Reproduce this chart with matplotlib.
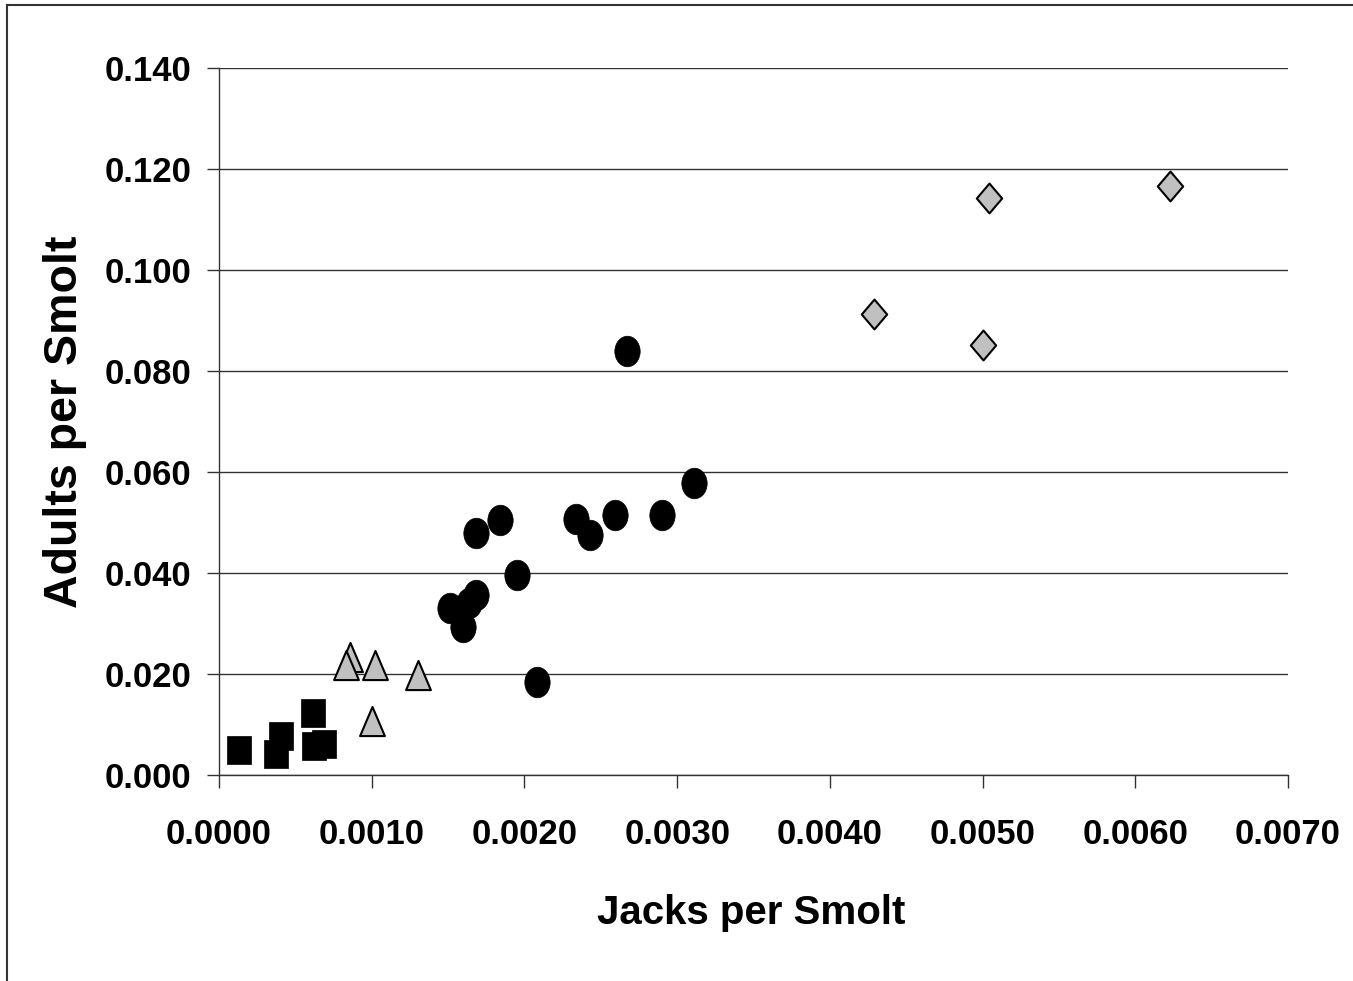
import numpy as np
import matplotlib
matplotlib.use("Agg")
import matplotlib.pyplot as plt
from matplotlib.path import Path
from matplotlib.lines import Line2D

plt.rcParams['font.family'] = ['Liberation Sans', 'DejaVu Sans']

# Data
sq_x = [0.000133, 0.000408, 0.000375, 0.000618, 0.000620, 0.000690]
sq_y = [0.0049, 0.0077, 0.0041, 0.0122, 0.0057, 0.0061]

tri_x = [0.00086, 0.00083, 0.00102, 0.00130, 0.00100]
tri_y = [0.0234, 0.0218, 0.0218, 0.0198, 0.0107]

cir_x = [0.00168, 0.00184, 0.00234, 0.00243, 0.00259, 0.00290, 0.00311,
         0.00195, 0.00151, 0.00168, 0.00160, 0.00164, 0.00208, 0.00267]
cir_y = [0.0479, 0.0504, 0.0507, 0.0475, 0.0515, 0.0515, 0.0578,
         0.0397, 0.0331, 0.0356, 0.0294, 0.0340, 0.0184, 0.0840]

dia_x = [0.00504, 0.00623, 0.00429, 0.00500]
dia_y = [0.1142, 0.1167, 0.0913, 0.0852]

x_ticks = [0.0, 0.001, 0.002, 0.003, 0.004, 0.005, 0.006, 0.007]
y_ticks = [0.0, 0.02, 0.04, 0.06, 0.08, 0.10, 0.12, 0.14]

W, H = 1353, 981
fig = plt.figure(figsize=(W / 100, H / 100), dpi=100)
ax = fig.add_axes([219 / W, 1 - 775 / H, (1288 - 219) / W, (775 - 68) / H])

asp = 0.85
sq_marker = Path([(-asp / 2, -0.5), (asp / 2, -0.5), (asp / 2, 0.5), (-asp / 2, 0.5), (-asp / 2, -0.5)],
                 [Path.MOVETO, Path.LINETO, Path.LINETO, Path.LINETO, Path.CLOSEPOLY])
tri_marker = Path([(-asp / 2, -0.5), (asp / 2, -0.5), (0, 0.5), (-asp / 2, -0.5)],
                  [Path.MOVETO, Path.LINETO, Path.LINETO, Path.CLOSEPOLY])
dia_marker = Path([(0, 0.5), (asp / 2, 0), (0, -0.5), (-asp / 2, 0), (0, 0.5)],
                  [Path.MOVETO, Path.LINETO, Path.LINETO, Path.LINETO, Path.CLOSEPOLY])
uc = Path.unit_circle()
ell_marker = Path(uc.vertices * np.array([0.83 * 0.5, 0.5]), uc.codes)

ax.plot(sq_x, sq_y, linestyle='none', marker=sq_marker, markersize=20.5,
        markerfacecolor='black', markeredgecolor='black', markeredgewidth=0.5, zorder=3)
ax.plot(tri_x, tri_y, linestyle='none', marker=tri_marker, markersize=21,
        markerfacecolor='#C0C0C0', markeredgecolor='black', markeredgewidth=1.5, zorder=3)
ax.plot(cir_x, cir_y, linestyle='none', marker=ell_marker, markersize=22,
        markerfacecolor='black', markeredgecolor='black', markeredgewidth=0.5, zorder=3)
ax.plot(dia_x, dia_y, linestyle='none', marker=dia_marker, markersize=21.5,
        markerfacecolor='#C0C0C0', markeredgecolor='black', markeredgewidth=1.5, zorder=3)

ax.set_xlim(0, 0.007)
ax.set_ylim(0, 0.14)
ax.set_xticks(x_ticks)
ax.set_yticks(y_ticks)
ax.set_xticklabels([f"{v:.4f}" for v in x_ticks])
ax.set_yticklabels([f"{v:.3f}" for v in y_ticks])

for s in ['top', 'right']:
    ax.spines[s].set_visible(False)
for s in ['left', 'bottom']:
    ax.spines[s].set_color('#333333')
    ax.spines[s].set_linewidth(1.0)

ax.yaxis.grid(True, color='#333333', linewidth=1.0)
ax.set_axisbelow(True)
ax.tick_params(axis='both', direction='out', length=9, width=1.0, color='#333333',
               labelsize=25)
ax.tick_params(axis='x', pad=22)
ax.tick_params(axis='y', pad=11)
for lab in ax.get_xticklabels() + ax.get_yticklabels():
    lab.set_fontweight('bold')

fig.text((598 + 905) / 2 / W, 1 - 913 / H, 'Jacks per Smolt', fontsize=29,
         fontweight='bold', ha='center', va='center')
fig.text(65 / W, 1 - 422 / H, 'Adults per Smolt', fontsize=33.5,
         fontweight='bold', ha='center', va='center', rotation=90)

# outer chart border
fig.add_artist(Line2D([7 / W, 7 / W], [0, 1 - 5 / H], transform=fig.transFigure,
                      color='#333333', linewidth=1.5))
fig.add_artist(Line2D([7 / W, 1], [1 - 5 / H, 1 - 5 / H], transform=fig.transFigure,
                      color='#333333', linewidth=1.5))

fig.savefig('out.png', dpi=100)
